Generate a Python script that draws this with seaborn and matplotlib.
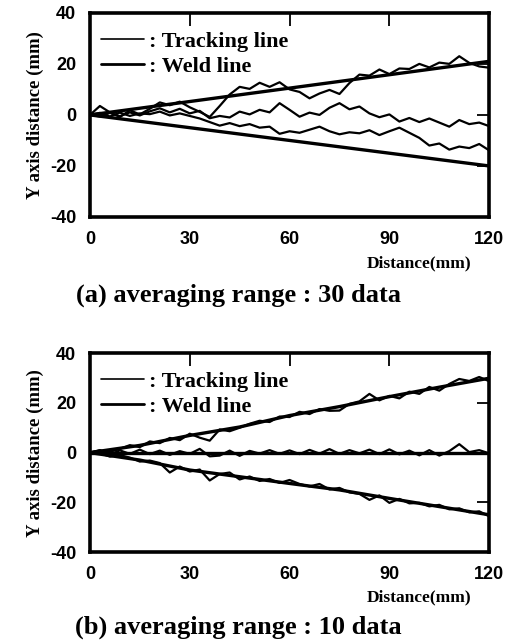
import matplotlib
matplotlib.use("Agg")
import matplotlib.pyplot as plt
from matplotlib.lines import Line2D
import seaborn as sns

# ---- (a) averaging range : 30 data ----
weld_a_x = [0, 120]
weld_a_up = [0, 21.0]
weld_a_low = [0, -20.0]

track_a_x = [0, 3, 6, 9, 12, 15, 18, 21, 24, 27, 30, 33, 36, 39, 42, 45, 48, 51,
             54, 57, 60, 63, 66, 69, 72, 75, 78, 81, 84, 87, 90, 93, 96, 99, 102,
             105, 108, 111, 114, 117, 120]
track_a1 = [0, 3.5, 1.0, -0.8, 1.8, 0.2, 2.4, 4.9, 3.8, 5.2, 3.0, 1.2, -0.8, 3.5,
            8.0, 11.0, 10.2, 12.6, 11.0, 12.8, 10.0, 9.0, 6.5, 8.4, 9.8, 8.2, 12.5,
            15.8, 15.4, 17.8, 16.0, 18.2, 18.0, 20.0, 18.6, 20.5, 20.0, 23.0, 20.4,
            19.0, 18.5]
track_a2 = [0, -0.6, 0.8, -0.5, 1.0, -0.2, 1.4, 2.6, 1.0, 2.4, 0.6, 1.6, -1.3,
            -0.4, -1.0, 1.3, 0.2, 2.0, 1.0, 4.6, 2.0, -0.7, 0.9, 0.0, 2.8, 4.6, 2.2,
            3.3, 0.6, -0.9, 0.2, -2.6, -1.2, -2.8, -1.4, -3.0, -4.6, -2.0, -3.6,
            -3.0, -4.4]
track_a3 = [0, 0.8, -0.6, 0.9, -0.4, 0.6, 0.3, 1.3, -0.2, 0.6, -0.4, -1.4, -2.8,
            -4.2, -3.2, -4.4, -3.6, -5.0, -4.6, -7.4, -6.4, -7.0, -5.8, -4.6, -6.4,
            -7.6, -6.8, -7.2, -6.0, -7.9, -6.4, -5.0, -7.0, -9.0, -12.0, -11.2,
            -13.6, -12.4, -13.0, -11.4, -13.9]

# ---- (b) averaging range : 10 data ----
weld_b_x = [0, 15, 30, 45, 60, 75, 90, 105, 120]
weld_b_up = [0, 2.9, 6.9, 10.3, 14.9, 18.5, 22.5, 26.3, 29.9]
weld_b_mid = [0, 0, 0, 0, 0, 0, 0, 0, 0]
weld_b_low = [0, -3.0, -7.0, -9.7, -12.4, -15.0, -18.4, -21.7, -25.0]

track_b_x = track_a_x
track_b_up = [0, 0.8, 0.3, 1.5, 3.0, 2.2, 4.5, 3.8, 5.9, 5.0, 7.6, 6.0, 4.8, 9.3,
              8.6, 10.0, 11.6, 12.8, 12.3, 14.5, 14.3, 16.4, 15.5, 17.5, 16.8,
              16.9, 19.6, 20.6, 23.6, 21.0, 22.8, 21.8, 24.5, 23.6, 26.4, 24.9,
              27.6, 29.6, 28.8, 30.4, 28.7]
track_b_mid = [0, 1.0, -0.8, 0.9, -0.5, 1.2, -0.6, 0.8, -0.9, 0.6, -0.5, 1.5,
               -1.5, -1.2, 0.8, -1.3, 0.7, -0.4, 1.0, -0.5, 0.9, -0.6, 1.1, -0.4,
               1.4, -0.5, 1.0, -0.3, 1.2, -0.6, 1.3, -0.7, 0.8, -1.1, 1.0, -1.2,
               0.6, 3.4, 0.2, 1.0, -0.3]
track_b_low = [0, -0.2, -1.6, -1.0, -2.0, -3.6, -3.2, -4.2, -8.0, -5.6, -7.6, -6.8,
               -11.2, -8.6, -8.0, -10.8, -9.6, -11.4, -10.6, -12.2, -11.0, -12.6,
               -13.6, -12.6, -14.8, -14.2, -16.0, -16.6, -19.0, -17.2, -20.2,
               -18.6, -20.4, -20.2, -21.6, -21.0, -22.8, -22.4, -24.0, -23.6, -25.6]

xticks = [0, 30, 60, 90, 120]
yticks = [-40, -20, 0, 20, 40]

sns.set_theme(style="white")
plt.rcParams["font.family"] = ["Liberation Sans", "DejaVu Sans"]
plt.rcParams["text.color"] = "black"
plt.rcParams["axes.labelcolor"] = "black"
plt.rcParams["axes.unicode_minus"] = False
serif = ["Liberation Serif", "DejaVu Serif"]

fig = plt.figure(figsize=(5.08, 6.42), dpi=100)
ax_a = fig.add_axes([0.177, 0.662, 0.786, 0.318])
ax_b = fig.add_axes([0.177, 0.140, 0.786, 0.310])


def draw(ax, weld, tracks):
    for wx, wy in weld:
        sns.lineplot(x=wx, y=wy, ax=ax, color="black", lw=2.4, sort=False)
    for tx, ty in tracks:
        sns.lineplot(x=tx, y=ty, ax=ax, color="black", lw=1.6, sort=False)
    ax.set_xlim(0, 120)
    ax.set_ylim(-40, 40)
    ax.set_xticks(xticks)
    ax.set_yticks(yticks)
    ax.tick_params(direction="in", length=9, width=1.3, top=True, right=True,
                   labelsize=13, pad=10, colors="black")
    for lab in ax.get_xticklabels() + ax.get_yticklabels():
        lab.set_fontweight("bold")
    for s in ax.spines.values():
        s.set_linewidth(2.6)
        s.set_color("black")
    ax.set_ylabel("Y axis distance (mm)", family=serif, fontweight="bold",
                  fontsize=13.5, labelpad=4)
    ax.set_xlabel("")
    ax.text(0.955, -0.225, "Distance(mm)", transform=ax.transAxes, ha="right",
            va="center", family=serif, fontweight="bold", fontsize=12.5)
    handles = [Line2D([], [], color="black", lw=1.2),
               Line2D([], [], color="black", lw=2.0)]
    ax.legend(handles, [": Tracking line", ": Weld line"], loc="upper left",
              bbox_to_anchor=(-0.01, 0.985), frameon=False, handlelength=1.9,
              handletextpad=0.25, labelspacing=0.2, borderaxespad=0.3,
              prop={"family": serif, "weight": "bold", "size": 16})


draw(ax_a, [(weld_a_x, weld_a_up), (weld_a_x, weld_a_low)],
     [(track_a_x, track_a1), (track_a_x, track_a2), (track_a_x, track_a3)])
draw(ax_b, [(weld_b_x, weld_b_up), (weld_b_x, weld_b_mid), (weld_b_x, weld_b_low)],
     [(track_b_x, track_b_up), (track_b_x, track_b_mid), (track_b_x, track_b_low)])

fig.text(0.47, 0.540, "(a) averaging range : 30 data", ha="center", va="center",
         family=serif, fontweight="bold", fontsize=19)
fig.text(0.47, 0.023, "(b) averaging range : 10 data", ha="center", va="center",
         family=serif, fontweight="bold", fontsize=19)

fig.savefig("out.png", dpi=100, facecolor="white")
